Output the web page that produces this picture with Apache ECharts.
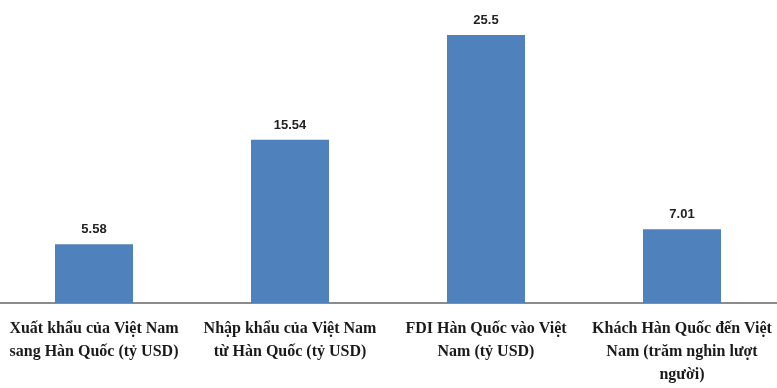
<!DOCTYPE html>
<html>
<head>
<meta charset="utf-8">
<script src="https://cdn.jsdelivr.net/npm/echarts@6/dist/echarts.min.js"></script>
<style>
  html, body { margin: 0; padding: 0; background: #fff; overflow: hidden; }
  #chart { width: 784px; height: 388px; margin-left: -4px; }
</style>
</head>
<body>
<div id="chart"></div>
<script>
// Korea–Vietnam economic indicators
const categories = [
  "Xuất khẩu của Việt Nam\nsang Hàn Quốc (tỷ USD)",
  "Nhập khẩu của Việt Nam\ntừ Hàn Quốc (tỷ USD)",
  "FDI Hàn Quốc vào Việt\nNam (tỷ USD)",
  "Khách Hàn Quốc đến Việt\nNam (trăm nghin lượt\nngười)"
];
const values = [5.58, 15.54, 25.5, 7.01];

const chart = echarts.init(document.getElementById('chart'), null, { renderer: 'canvas' });
chart.setOption({
  animation: false,
  backgroundColor: '#ffffff',
  grid: { left: 0, right: 0, top: 0, bottom: 85, containLabel: false },
  xAxis: {
    type: 'category',
    data: categories,
    axisLine: { show: true, lineStyle: { color: '#8c8c8c', width: 2 } },
    axisTick: { show: false },
    axisLabel: {
      interval: 0,
      margin: 14,
      fontFamily: '"Liberation Serif", "DejaVu Serif", serif',
      fontSize: 16,
      fontWeight: 'bold',
      color: '#1a1a1a',
      lineHeight: 23,
      align: 'center'
    }
  },
  yAxis: {
    type: 'value',
    min: 0,
    max: 28.83,
    show: false,
    splitLine: { show: false }
  },
  series: [{
    type: 'bar',
    data: values,
    barWidth: 78,
    itemStyle: { color: '#4f81bd' },
    label: {
      show: true,
      position: 'top',
      distance: 8,
      fontFamily: '"Liberation Sans", Arial, sans-serif',
      fontSize: 13,
      fontWeight: 'bold',
      color: '#222222'
    }
  }]
});
</script>
</body>
</html>
